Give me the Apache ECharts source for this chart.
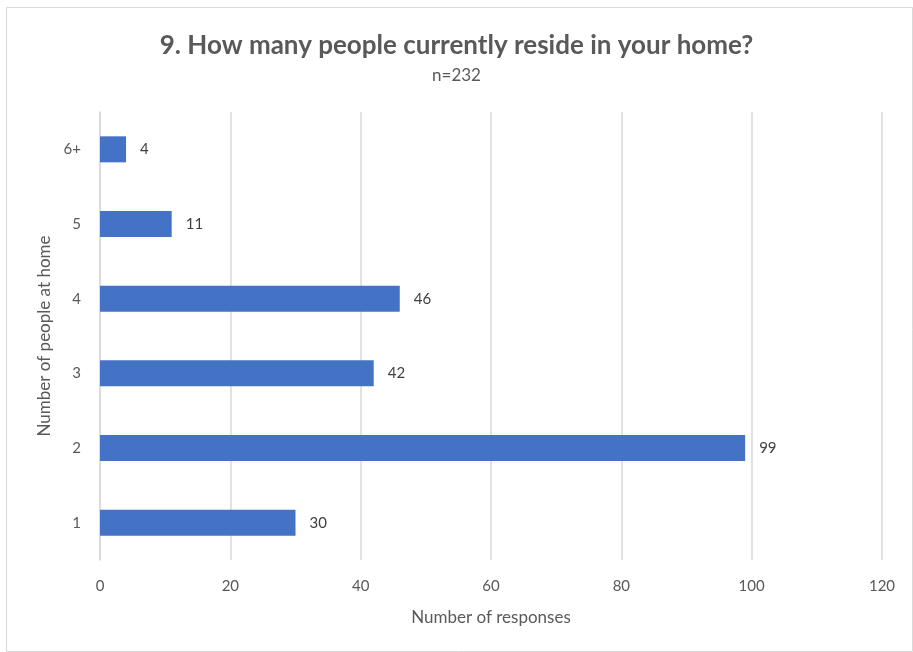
<!DOCTYPE html>
<html>
<head>
<meta charset="utf-8">
<script src="https://cdn.jsdelivr.net/npm/echarts@6/dist/echarts.min.js"></script>
<style>html,body{margin:0;padding:0;background:#fff}#c{width:913px;height:652px}</style>
</head>
<body>
<div id="c"></div>
<script>
const categories = ['1', '2', '3', '4', '5', '6+'];
const responses = [30, 99, 42, 46, 11, 4];
const xTicks = [0, 20, 40, 60, 80, 100, 120];

const font = 'Lato, "Open Sans", sans-serif';
const chart = echarts.init(document.getElementById('c'), null, {renderer: 'canvas'});
chart.setOption({
  animation: false,
  backgroundColor: '#fff',
  textStyle: {fontFamily: font},
  graphic: [{
    type: 'rect', left: 4, top: 5, shape: {width: 906, height: 644},
    style: {fill: 'none', stroke: '#d9d9d9', lineWidth: 1}, silent: true
  }],
  title: {
    text: '9. How many people currently reside in your home?',
    subtext: 'n=232',
    left: 'center', top: 28, itemGap: 8,
    textStyle: {fontFamily: font, fontSize: 26, fontWeight: 'bold', color: '#595959'},
    subtextStyle: {fontFamily: font, fontSize: 17, color: '#595959'}
  },
  grid: {left: 100, right: 31, top: 112, bottom: 92, containLabel: false},
  xAxis: {
    type: 'value', min: xTicks[0], max: xTicks[xTicks.length - 1], interval: 20,
    name: 'Number of responses', nameLocation: 'middle', nameGap: 49,
    nameTextStyle: {fontFamily: font, fontSize: 17, color: '#595959'},
    axisLine: {show: false}, axisTick: {show: false},
    axisLabel: {fontFamily: font, fontSize: 15, color: '#595959', margin: 19},
    splitLine: {show: true, lineStyle: {color: '#d9d9d9', width: 1.5}}
  },
  yAxis: {
    type: 'category', data: categories,
    name: 'Number of people at home', nameLocation: 'middle', nameGap: 45,
    nameTextStyle: {fontFamily: font, fontSize: 17, color: '#595959'},
    axisLine: {show: true, lineStyle: {color: '#d9d9d9', width: 1.5}},
    axisTick: {show: false},
    axisLabel: {fontFamily: font, fontSize: 15, color: '#595959', margin: 19}
  },
  series: [{
    type: 'bar', data: responses, barWidth: 26,
    itemStyle: {color: '#4472C4'},
    label: {show: true, position: 'right', distance: 14, fontFamily: font, fontSize: 15, color: '#404040'}
  }]
});
</script>
</body>
</html>
